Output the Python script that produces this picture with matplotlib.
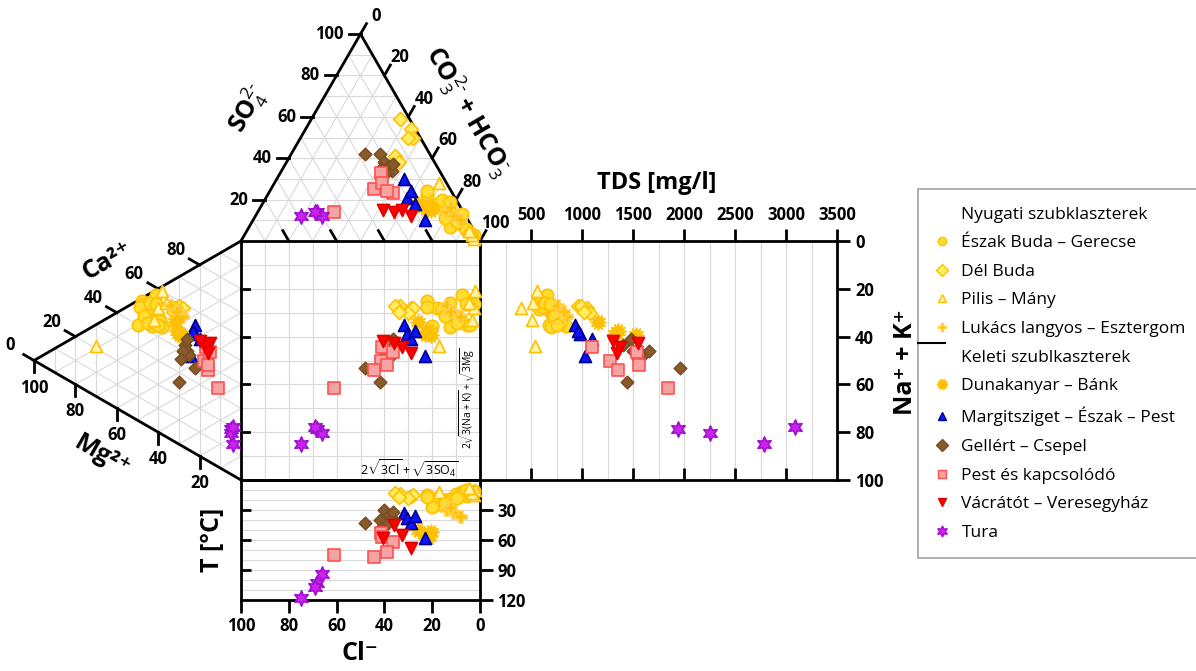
import matplotlib
matplotlib.use('Agg')
import matplotlib.pyplot as plt
from matplotlib.lines import Line2D
import numpy as np

plt.rcParams['font.family'] = ['Open Sans', 'DejaVu Sans']
plt.rcParams['mathtext.fontset'] = 'custom'
plt.rcParams['mathtext.rm'] = 'Open Sans'
plt.rcParams['mathtext.it'] = 'Open Sans'
plt.rcParams['mathtext.bf'] = 'Open Sans:bold'

# ---- data (meq% of anions / cations, TDS mg/l, temperature degC) ----
eszak_so4 = [22, 18, 15, 12, 10, 8, 5, 3, 20, 16, 13, 7, 24, 19, 11, 6, 9, 4]
eszak_hco3 = [67, 73, 78, 82, 85, 88, 92, 96, 74, 72, 86, 84, 66, 78, 80, 91, 86, 94]
eszak_mg = [48, 46, 44, 42, 40, 39, 50, 47, 45, 43, 41, 38, 49, 44, 47, 41, 45, 40]
eszak_nak = [1, 5, 8, 10, 12, 14, 10, 3, 6, 14, 2, 17, 3, 4, 8, 6, 12, 15]
eszak_tds = [600, 650, 700, 720, 760, 800, 680, 620, 580, 840, 660, 700, 610, 640, 730, 690, 780, 750]
eszak_t = [15, 18, 20, 22, 14, 12, 16, 11, 25, 27, 13, 19, 17, 21, 23, 10, 18, 12]

del_so4 = [59, 54, 50, 50, 41, 38]
del_hco3 = [37, 44, 47, 45, 44, 47]
del_mg = [30, 32, 28, 30, 34, 33]
del_nak = [12, 12, 14, 15, 10, 13]
del_tds = [960, 1000, 1050, 1080, 990, 1020]
del_t = [14, 16, 15, 18, 13, 17]

pilis_so4 = [28, 2, 1, 3, 5]
pilis_hco3 = [69, 97, 97, 95, 93]
pilis_mg = [70, 38, 40, 42, 36]
pilis_nak = [9, 2, 8, 12, 8]
pilis_tds = [540, 560, 400, 510, 520]
pilis_t = [12, 10, 15, 13, 8]

lukacs_so4 = [14, 12, 10, 16]
lukacs_hco3 = [79, 83, 87, 80]
lukacs_mg = [34, 29, 28, 31]
lukacs_nak = [10, 15, 18, 14]
lukacs_tds = [760, 800, 850, 820]
lukacs_t = [30, 33, 37, 28]

duna_so4 = [18, 16, 15, 17]
duna_hco3 = [65, 69, 72, 70]
duna_mg = [32, 30, 29, 31]
duna_nak = [18, 24, 25, 22]
duna_tds = [1155, 1320, 1530, 1350]
duna_t = [50, 55, 52, 57]

margit_so4 = [30, 21, 10, 24, 18]
margit_hco3 = [53, 59, 72, 59, 64]
margit_mg = [22, 22, 24, 20, 23]
margit_nak = [24, 28, 36, 31, 26]
margit_tds = [930, 980, 1030, 1100, 960]
margit_t = [33, 38, 58, 43, 36]

gellert_so4 = [42, 42, 38, 36, 34, 33, 37, 35]
gellert_hco3 = [31, 37, 41, 44, 46, 44, 45, 41]
gellert_mg = [22, 30, 27, 26, 25, 28, 26, 29]
gellert_nak = [42, 44, 30, 33, 35, 32, 28, 35]
gellert_tds = [1960, 1440, 1400, 1500, 1600, 1660, 1480, 1550]
gellert_t = [43, 40, 30, 35, 38, 45, 32, 48]

pest_so4 = [33, 25, 28, 23, 24, 14]
pest_hco3 = [42, 43, 45, 52, 49, 32]
pest_mg = [18, 16, 17, 15, 16, 11]
pest_nak = [41, 46, 36, 39, 44, 56]
pest_tds = [1270, 1350, 1100, 1540, 1560, 1840]
pest_t = [53, 77, 57, 62, 72, 75]

vac_so4 = [15, 14, 15, 12]
vac_hco3 = [52, 57, 60, 65]
vac_mg = [20, 15, 17, 16]
vac_nak = [32, 35, 36, 39]
vac_tds = [1300, 1550, 1370, 1340]
vac_t = [58, 45, 55, 68]

tura_so4 = [12, 14, 12, 14]
tura_hco3 = [19, 25, 28, 24]
tura_mg = [4, 5, 5, 4]
tura_nak = [83, 76, 78, 76]
tura_tds = [2780, 1940, 2250, 3090]
tura_t = [118, 103, 94, 107]

groups = [
    ('Észak Buda – Gerecse', eszak_so4, eszak_hco3, eszak_mg, eszak_nak, eszak_tds, eszak_t,
     dict(marker='o', facecolor='#FFDD33', edgecolor='#FFC000', s=80)),
    ('Dél Buda', del_so4, del_hco3, del_mg, del_nak, del_tds, del_t,
     dict(marker='D', facecolor='#FFEE66', edgecolor='#FFC000', s=50)),
    ('Pilis – Mány', pilis_so4, pilis_hco3, pilis_mg, pilis_nak, pilis_tds, pilis_t,
     dict(marker='^', facecolor='#FFF4B0', edgecolor='#FFC000', s=75)),
    ('Lukács langyos – Esztergom', lukacs_so4, lukacs_hco3, lukacs_mg, lukacs_nak, lukacs_tds, lukacs_t,
     dict(marker='P', facecolor='#FFC000', edgecolor='#FFD24D', s=70)),
    ('Dunakanyar – Bánk', duna_so4, duna_hco3, duna_mg, duna_nak, duna_tds, duna_t,
     dict(marker=(12, 1, 0), facecolor='#FFC000', edgecolor='#FFC000', s=120)),
    ('Margitsziget – Észak – Pest', margit_so4, margit_hco3, margit_mg, margit_nak, margit_tds, margit_t,
     dict(marker='^', facecolor='#0A14FF', edgecolor='#00008B', s=75)),
    ('Gellért – Csepel', gellert_so4, gellert_hco3, gellert_mg, gellert_nak, gellert_tds, gellert_t,
     dict(marker='D', facecolor='#8B5A2B', edgecolor='#7A4E24', s=40)),
    ('Pest és kapcsolódó', pest_so4, pest_hco3, pest_mg, pest_nak, pest_tds, pest_t,
     dict(marker='s', facecolor='#F5A3A3', edgecolor='#FF5050', s=75)),
    ('Vácrátót – Veresegyház', vac_so4, vac_hco3, vac_mg, vac_nak, vac_tds, vac_t,
     dict(marker='v', facecolor='#FF0000', edgecolor='#E00000', s=75)),
    ('Tura', tura_so4, tura_hco3, tura_mg, tura_nak, tura_tds, tura_t,
     dict(marker=(6, 1, 0), facecolor='#CC22EE', edgecolor='#A010D0', s=120)),
]

W, Hpx = 1196, 671
S = 2.39          # pixels per percent unit in the Durov square
X0, Y0 = 241, 241 # pixel position of the square's top-left corner
H = np.sqrt(3) / 2
GRID = '#d9d9d9'

fig = plt.figure(figsize=(W / 100, Hpx / 100), dpi=100)
ax = fig.add_axes([0, 0, 1, 1])
ax.set_xlim(-X0 / S, (W - X0) / S)
ax.set_ylim((Hpx - Y0) / S, -Y0 / S)
ax.axis('off')

# ---- grids ----
for k in range(10, 100, 10):
    # square
    ax.plot([k, k], [0, 100], color=GRID, lw=0.8, zorder=1)
    ax.plot([0, 100], [k, k], color=GRID, lw=0.8, zorder=1)
    # top triangle (anions)
    ax.plot([k / 2, 100 - k / 2], [-H * k, -H * k], color=GRID, lw=0.8, zorder=1)
    ax.plot([k, k + (100 - k) / 2], [0, -H * (100 - k)], color=GRID, lw=0.8, zorder=1)
    ax.plot([100 - k, (100 - k) / 2], [0, -H * (100 - k)], color=GRID, lw=0.8, zorder=1)
    # left triangle (cations)
    ax.plot([-H * k, -H * k], [k / 2, 100 - k / 2], color=GRID, lw=0.8, zorder=1)
    ax.plot([0, -H * (100 - k)], [k, k + (100 - k) / 2], color=GRID, lw=0.8, zorder=1)
    ax.plot([0, -H * (100 - k)], [100 - k, (100 - k) / 2], color=GRID, lw=0.8, zorder=1)

# ---- outlines ----
ax.plot([0, 50, 100], [0, -H * 100, 0], color='black', lw=2, zorder=2, solid_joinstyle='miter')
ax.plot([0, -H * 100, 0], [0, 50, 100], color='black', lw=2, zorder=2, solid_joinstyle='miter')
ax.plot([0, 100, 100, 0, 0], [0, 0, 100, 100, 0], color='black', lw=2, zorder=2)

TL = 5
tfs = 12
tw = 'bold'
# top triangle left edge: SO4
for k in range(20, 101, 20):
    x, y = k / 2, -H * k
    ax.plot([x - TL, x], [y, y], color='black', lw=2, zorder=2)
    ax.text(x - 7, y, str(k), ha='right', va='center', fontsize=tfs, fontweight=tw)
# top triangle right edge: CO3 + HCO3
for k in range(0, 101, 20):
    x, y = 50 + k / 2, -H * (100 - k)
    ax.plot([x, x + TL * 0.5], [y, y - TL * H], color='black', lw=2, zorder=2)
    ax.text(x + 6.5, y - 7.5, str(k), ha='center', va='center', fontsize=tfs, fontweight=tw)
# base ticks (Cl)
for k in range(20, 100, 20):
    x = 100 - k
    ax.plot([x, x - TL * 0.5], [0, -TL * H], color='black', lw=2, zorder=2)
# left triangle upper edge: Ca
for k in range(0, 100, 20):
    x, y = -H * (100 - k), (100 - k) / 2
    ax.plot([x, x - TL * H], [y, y - TL * 0.5], color='black', lw=2, zorder=2)
    ax.text(x - 10, y - 6.3, str(k), ha='center', va='center', fontsize=tfs, fontweight=tw)
# left triangle lower edge: Mg
for k in range(20, 101, 20):
    x, y = -H * k, 100 - k / 2
    ax.plot([x, x], [y, y + TL], color='black', lw=2, zorder=2)
    ax.text(x, y + 11.3, str(k), ha='center', va='center', fontsize=tfs, fontweight=tw)
# square left edge ticks
for k in range(20, 100, 20):
    ax.plot([0, 3.5], [k, k], color='black', lw=2, zorder=2)

# ---- axis titles ----
ax.text(2.9, -55.6, r'SO$_4^{2\text{-}}$', rotation=60, ha='center', va='center',
        fontsize=18, fontweight='bold')
ax.text(95, -54, r'CO$_3^{2\text{-}}$ + HCO$_3^{\text{-}}$', rotation=-60, ha='center', va='center',
        fontsize=18, fontweight='bold')
ax.text(-56, 8.5, 'Ca²⁺', rotation=30, ha='center', va='center', fontsize=18, fontweight='bold')
ax.text(-58, 90, 'Mg²⁺', rotation=-30, ha='center', va='center', fontsize=18, fontweight='bold')
ax.text(70.5, 95.5, r'$2\sqrt{3\mathrm{Cl}}+\sqrt{3\mathrm{SO_4}}$', ha='center', va='center', fontsize=9)
ax.text(94.8, 66, r'$2\sqrt{3(\mathrm{Na+K})}+\sqrt{3\mathrm{Mg}}$', rotation=90, ha='center',
        va='center', fontsize=7.5)

# ---- TDS panel ----
ax_tds = fig.add_axes([480 / W, (Hpx - 480) / Hpx, (837 - 480) / W, 239 / Hpx])
ax_tds.set_xlim(0, 3500)
ax_tds.set_ylim(100, 0)
ax_tds.set_facecolor('none')
ax_tds.xaxis.tick_top()
ax_tds.set_xticks(range(500, 3501, 500))
ax_tds.set_xticks(range(250, 3500, 250), minor=True)
ax_tds.grid(which='both', axis='x', color=GRID, lw=0.8)
ax_tds.tick_params(axis='x', which='major', direction='out', length=9, width=2, pad=3,
                   labelsize=tfs)
ax_tds.tick_params(axis='x', which='minor', length=0)
ax_tds.yaxis.tick_right()
ax_tds.set_yticks(range(0, 101, 20))
ax_tds.tick_params(axis='y', direction='out', length=9, width=2, pad=4, labelsize=tfs)
for lab in ax_tds.get_xticklabels() + ax_tds.get_yticklabels():
    lab.set_fontweight(tw)
ax_tds.vlines(range(500, 3001, 500), 95, 100, color='black', lw=2)
ax_tds.spines['left'].set_visible(False)
for sp in ['top', 'bottom', 'right']:
    ax_tds.spines[sp].set_linewidth(2)
fig.text(657 / W, 1 - 183 / Hpx, 'TDS [mg/l]', ha='center', va='center', fontsize=17, fontweight='bold')
fig.text(905 / W, 1 - 362 / Hpx, 'Na⁺ + K⁺', rotation=90, ha='center', va='center',
         fontsize=18, fontweight='bold')

# ---- temperature panel ----
ax_t = fig.add_axes([241 / W, (Hpx - 600) / Hpx, 239 / W, 120 / Hpx])
ax_t.set_xlim(100, 0)
ax_t.set_ylim(120, 0)
ax_t.set_facecolor('none')
ax_t.set_xticks(range(0, 101, 20))
ax_t.yaxis.tick_right()
ax_t.set_yticks([30, 60, 90, 120])
ax_t.set_yticks(range(10, 120, 10), minor=True)
ax_t.grid(which='both', axis='y', color=GRID, lw=0.8)
ax_t.tick_params(axis='both', which='major', direction='out', length=9, width=2, labelsize=tfs)
ax_t.tick_params(axis='y', which='minor', length=0)
for lab in ax_t.get_xticklabels() + ax_t.get_yticklabels():
    lab.set_fontweight(tw)
ax_t.hlines([30, 60, 90], 96, 100, color='black', lw=2)
for sp in ax_t.spines.values():
    sp.set_linewidth(2)
fig.text(212 / W, 1 - 540 / Hpx, 'T [°C]', rotation=90, ha='center', va='center',
         fontsize=18, fontweight='bold')
fig.text(360 / W, 1 - 654 / Hpx, 'Cl⁻', ha='center', va='center', fontsize=18, fontweight='bold')

# ---- data points ----
handles = []
for z, (name, so4, hco3, mg, nak, tds, temp, st) in enumerate(groups):
    so4 = np.asarray(so4, float)
    hco3 = np.asarray(hco3, float)
    mg = np.asarray(mg, float)
    nak = np.asarray(nak, float)
    pa = hco3 + so4 / 2
    pc = nak + mg / 2
    kw = dict(marker=st['marker'], s=st['s'], facecolor=st['facecolor'],
              edgecolor=st['edgecolor'], linewidths=1.2, zorder=3 + z * 0.01)
    ax.scatter(pa, -H * so4, **kw)
    ax.scatter(-H * mg, pc, **kw)
    ax.scatter(pa, pc, **kw)
    ax_tds.scatter(tds, pc, clip_on=False, **kw)
    ax_t.scatter(100 - pa, temp, clip_on=False, **kw)
    ms = 8 if isinstance(st['marker'], tuple) else 6
    handles.append(Line2D([], [], linestyle='none', marker=st['marker'], markersize=ms,
                          markerfacecolor=st['facecolor'], markeredgecolor=st['edgecolor'],
                          label=name))

blank = lambda lab: Line2D([], [], linestyle='none', label=lab)
leg_handles = [blank('Nyugati szubklaszterek')] + handles[:4] + \
              [blank('Keleti szublkaszterek')] + handles[4:]
leg = fig.legend(handles=leg_handles, loc='upper left',
                 bbox_to_anchor=(918 / W, 1 - 189 / Hpx), bbox_transform=fig.transFigure,
                 frameon=True, fancybox=False, edgecolor='#8c8c8c', fontsize=12.5,
                 labelspacing=0.72, handlelength=0.8, handletextpad=0.7, borderpad=1.0,
                 borderaxespad=0)
leg.get_frame().set_linewidth(1.2)
sep = Line2D([918 / W, 945 / W], [1 - 343 / Hpx, 1 - 343 / Hpx], color='black', lw=1.5)
sep.set_zorder(10)
fig.add_artist(sep)

fig.savefig('out.png', dpi=100)
